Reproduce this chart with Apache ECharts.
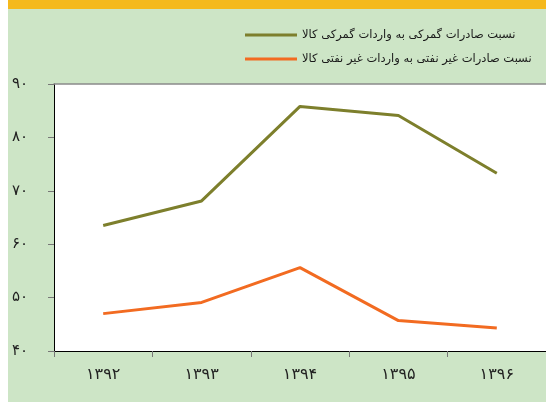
<!DOCTYPE html>
<html>
<head>
<meta charset="utf-8">
<script src="https://cdn.jsdelivr.net/npm/echarts@6/dist/echarts.min.js"></script>
<style>
  html, body { margin: 0; padding: 0; background: #fff; }
  #wrap { position: relative; width: 546px; height: 402px; }
  #bg { position: absolute; left: 8px; top: 0; width: 538px; height: 402px; background: #cde5c6; }
  #band { position: absolute; left: 8px; top: 0; width: 538px; height: 9px; background: #f5b91d; }
  #chart { position: absolute; left: 0; top: 0; width: 546px; height: 402px; }
</style>
</head>
<body>
<div id="wrap">
  <div id="bg"></div>
  <div id="band"></div>
  <div id="chart"></div>
</div>
<script>
// سال‌ها
const years = ['۱۳۹۲', '۱۳۹۳', '۱۳۹۴', '۱۳۹۵', '۱۳۹۶']

const customsName = 'نسبت صادرات گمرکی به واردات گمرکی کالا'
const customsRatio = [63.5, 68.1, 85.8, 84.1, 73.3]

const nonOilName = 'نسبت صادرات غیر نفتی به واردات غیر نفتی کالا'
const nonOilRatio = [47.0, 49.1, 55.6, 45.7, 44.3]

const yTicks = [40, 50, 60, 70, 80, 90]
const yTickLabels = ['۴۰', '۵۰', '۶۰', '۷۰', '۸۰', '۹۰']

const colors = {
  customs: '#7d7f2c',
  nonOil: '#f26b21'
}

const font = 'DejaVu Sans'

const chart = echarts.init(document.getElementById('chart'))

const option = {
  animation: false,
  textStyle: { fontFamily: font },
  legend: {
    orient: 'vertical',
    left: 240,
    top: 24,
    itemWidth: 52,
    itemHeight: 3,
    itemGap: 12,
    icon: 'rect',
    textStyle: { fontFamily: font, fontSize: 11.5, color: '#1a1a1a' },
    data: [customsName, nonOilName]
  },
  grid: {
    show: true,
    left: 54,
    top: 84,
    width: 494,
    height: 267,
    backgroundColor: '#fff',
    borderWidth: 0
  },
  xAxis: [
    {
      type: 'category',
      boundaryGap: true,
      data: years,
      axisLine: { lineStyle: { color: '#000', width: 1 } },
      axisTick: { show: true, inside: false, length: 6, lineStyle: { color: '#777' } },
      axisLabel: { color: '#222', fontSize: 16, margin: 16, fontFamily: font }
    },
    {
      // خط بالای ناحیه نمودار
      type: 'category',
      position: 'top',
      data: years,
      axisLine: { show: true, lineStyle: { color: '#8a8a8a', width: 1.5 } },
      axisTick: { show: false },
      axisLabel: { show: false }
    }
  ],
  yAxis: {
    type: 'value',
    min: 40,
    max: 90,
    interval: 10,
    splitLine: { show: false },
    axisLine: { show: true, lineStyle: { color: '#000', width: 1 } },
    axisTick: { show: true, inside: false, length: 6, lineStyle: { color: '#777' } },
    axisLabel: {
      color: '#222',
      fontSize: 15,
      margin: 26,
      padding: [0, 0, 6, 0],
      fontFamily: font,
      formatter: (v) => yTickLabels[yTicks.indexOf(v)]
    }
  },
  series: [
    {
      name: customsName,
      type: 'line',
      data: customsRatio,
      symbol: 'none',
      lineStyle: { color: colors.customs, width: 3 },
      itemStyle: { color: colors.customs }
    },
    {
      name: nonOilName,
      type: 'line',
      data: nonOilRatio,
      symbol: 'none',
      lineStyle: { color: colors.nonOil, width: 3 },
      itemStyle: { color: colors.nonOil }
    }
  ]
}

chart.setOption(option)
</script>
</body>
</html>
